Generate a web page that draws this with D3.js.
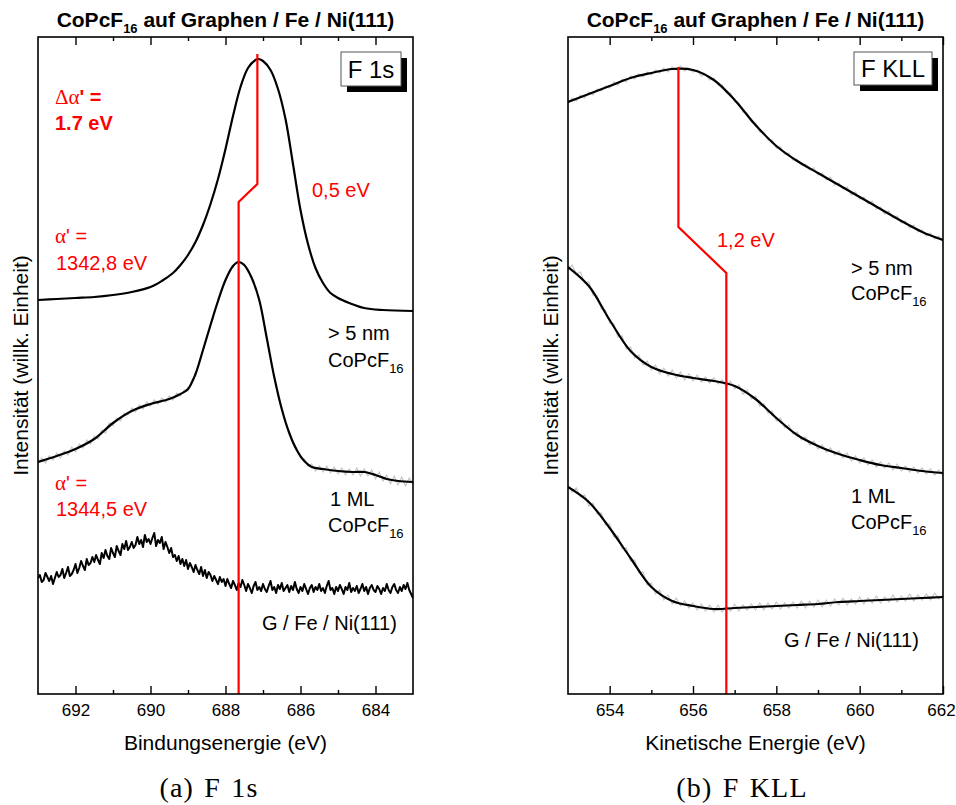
<!DOCTYPE html>
<html><head><meta charset="utf-8">
<script src="https://cdn.jsdelivr.net/npm/d3@7"></script>
<style>body{margin:0;background:#fff}svg{display:block}</style>
</head><body>
<svg id="c" width="956" height="805"></svg>
<script>
// ---------- DATA (energy in eV, intensity in arbitrary units) ----------
const f1sTicksMajor = [692, 690, 688, 686, 684];
const f1sTicksMinor = [691, 689, 687, 685];
const kllTicksMajor = [654, 656, 658, 660, 662];
const kllTicksMinor = [655, 657, 659, 661];

// F 1s, > 5 nm CoPcF16 (smoothed)
const f1sThick = [[693.0,394],[692.5,395],[692.0,396],[691.5,397],[691.0,399],[690.5,402],[690.0,407],[689.7,413],[689.4,421],[689.2,429],[689.0,439],[688.8,452],[688.6,469],[688.4,490],[688.2,515],[688.0,545],[687.8,578],[687.6,607],[687.4,626],[687.2,634],[687.13,635],[687.0,633],[686.8,624],[686.6,605],[686.4,575],[686.2,530],[686.0,484],[685.8,450],[685.6,426],[685.4,411],[685.2,401],[685.0,396],[684.7,391],[684.3,386],[683.8,384],[683.0,383]];
// F 1s, 1 ML CoPcF16 (smoothed)
const f1sML = [[693.0,232],[692.5,238],[692.0,245],[691.5,255],[691.0,271],[690.5,283],[690.0,290],[689.5,295],[689.2,300],[689.0,305],[688.8,320],[688.6,344],[688.4,369],[688.2,393],[688.0,414],[687.8,428],[687.65,432],[687.5,429],[687.3,416],[687.1,394],[686.9,356],[686.7,317],[686.5,285],[686.3,261],[686.1,244],[685.9,233],[685.7,227],[685.4,225],[685.0,223],[684.6,222],[684.3,222],[684.0,219],[683.7,215],[683.4,213],[683.0,212]];
// F 1s, 1 ML raw (start 693.0 eV, step -0.1 eV)
const f1sMLRawStart = 693.0, f1sMLRawStep = -0.1;
const f1sMLRaw = [230,236,231,238,234,241,236,243,239,247,242,250,246,254,250,258,255,264,261,271,268,276,273,281,279,286,282,289,285,292,288,294,290,296,292,298,294,301,298,304,303,314,318,333,343,357,368,382,392,405,413,423,427,432,431,430,422,417,405,395,375,357,335,318,299,286,271,262,251,246,236,235,228,230,223,228,222,228,221,227,220,226,219,225,219,226,218,225,218,224,215,222,213,219,210,218,209,217,208,216,210];
// F 1s, G / Fe / Ni(111) raw (start 693.0 eV, step -0.05 eV)
const f1sSubStart = 693.0, f1sSubStep = -0.05;
const f1sSub = [116,119,112,114,121,117,113,118,110,116, 122,117,119,125,116,121,127,118,120,124, 130,121,126,133,128,124,135,129,131,137, 132,139,134,130,141,136,144,138,135,146, 141,137,148,143,139,150,145,153,144,147, 152,146,149,157,150,154,147,159,152,155, 150,156,161,148,154,151,157,145,152,147, 141,146,137,139,133,138,130,135,128,134, 125,131,127,122,129,124,120,127,118,124, 116,122,119,113,118,114,110,117,112,115, 108,115,110,106,113,109,104,111,107,114, 109,103,110,106,101,108,112,104,107,103, 110,105,102,108,113,104,107,101,109,105, 111,103,106,109,102,108,104,112,105,101, 107,103,110,105,100,106,109,102,107,104, 110,103,106,101,108,113,104,106,100,107, 103,109,105,100,107,104,111,102,106,103, 108,101,105,110,103,107,100,106,109,104, 102,108,105,100,106,103,110,104,101,107, 110,104,101,107,103,109,105,111,104,100,96];

// F KLL smoothed
const kllThick = [[653.0,592],[653.5,600],[654.0,608],[654.5,616],[655.0,621],[655.5,625],[656.0,624],[656.5,614],[657.0,594],[657.5,569],[658.0,548],[658.5,533],[659.0,521],[659.5,509],[660.0,497],[660.5,485],[661.0,473],[661.5,462],[662.0,454]];
const kllML = [[653.0,427],[653.5,408],[654.0,374],[654.5,343],[655.0,327],[655.5,320],[656.0,316],[656.5,313],[657.0,308],[657.5,295],[658.0,276],[658.5,259],[659.0,248],[659.5,240],[660.0,234],[660.5,229],[661.0,226],[661.5,223],[662.0,221]];
const kllSub = [[653.0,207],[653.5,192],[654.0,166],[654.5,136],[655.0,107],[655.5,93],[656.0,88],[656.5,85],[657.0,86],[657.5,87],[658.0,88],[658.5,89],[659.0,90],[659.5,92],[660.0,93],[660.5,94],[661.0,95],[661.5,96],[662.0,97]];
// F KLL raw (start 653.0 eV, step +0.1 eV)
const kllRawStart = 653.0, kllRawStep = 0.1;
const kllThickRaw = [590,596,593,599,596,602,599,605,603,608,606,612,609,615,612,618,615,620,617,622,619,624,621,626,622,627,624,628,623,626,622,624,618,620,614,616,609,609,601,601,592,591,582,581,572,571,562,562,554,554,546,547,540,541,534,535,529,530,524,526,519,521,514,517,509,511,505,507,499,502,495,497,490,493,485,487,480,483,476,478,471,473,466,469,462,464,458,461,455,458,452];
const kllMLRaw = [425,429,420,422,411,412,399,398,385,384,371,370,357,358,345,347,336,339,329,333,324,329,320,326,318,324,316,322,314,320,313,319,312,317,311,316,310,314,307,313,305,309,300,304,295,298,288,290,281,283,273,276,266,269,260,262,254,257,249,253,245,249,242,246,239,243,236,241,233,238,231,236,229,234,227,232,226,231,224,230,223,228,222,227,221,226,220,225,219,224,218];
const kllSubRaw = [209,202,206,197,199,188,191,180,181,169,170,157,158,145,146,133,134,121,122,109,111,100,104,94,99,90,96,88,93,86,91,84,90,83,89,82,89,82,88,83,90,83,89,84,90,84,91,84,91,85,92,85,91,86,92,86,93,86,93,87,94,87,94,88,95,89,96,89,95,90,97,90,96,91,98,91,97,92,99,92,98,93,100,93,99,94,100,94,101,95,99];

// shift markers (eV, intensity)
const f1sShift = [[687.15,640],[687.15,510],[687.65,492],[687.65,0]];
const kllShift = [[655.65,627],[655.65,467],[656.8,421],[656.8,0]];

// ---------- DRAW ----------
const svg = d3.select('#c');
const SANS = "'Liberation Sans', Arial, sans-serif";
const SERIF = "'Liberation Serif', 'Times New Roman', serif";
const plotTop = 37, plotBottom = 694;

function panel(cfg){
  const g = svg.append('g');
  const x = d3.scaleLinear().domain(cfg.xDomain).range([cfg.left, cfg.right]);
  const y = d3.scaleLinear().domain([0, 657]).range([plotBottom, plotTop]);
  const line = d3.line().x(d => x(d[0])).y(d => y(d[1]));
  const smooth = d3.line().x(d => x(d[0])).y(d => y(d[1])).curve(d3.curveCatmullRom.alpha(0.5));

  const clip = 'clip' + cfg.id;
  svg.append('clipPath').attr('id', clip).append('rect')
     .attr('x', cfg.left).attr('y', plotTop).attr('width', cfg.right - cfg.left).attr('height', plotBottom - plotTop);
  const plot = g.append('g').attr('clip-path', `url(#${clip})`);

  cfg.raw.forEach(r => {
    const pts = r.values.map((v, i) => [r.start + i * r.step, v]);
    plot.append('path').attr('d', line(pts)).attr('fill', 'none')
      .attr('stroke', '#c4c4c4').attr('stroke-width', 1.1);
  });
  cfg.noisy.forEach(r => {
    const pts = r.values.map((v, i) => [r.start + i * r.step, v]);
    plot.append('path').attr('d', line(pts)).attr('fill', 'none')
      .attr('stroke', '#000').attr('stroke-width', 2).attr('stroke-linejoin', 'round');
  });
  cfg.smooth.forEach(s => {
    plot.append('path').attr('d', smooth(s)).attr('fill', 'none')
      .attr('stroke', '#000').attr('stroke-width', 2.2);
  });
  plot.append('path').attr('d', line(cfg.shift)).attr('fill', 'none')
    .attr('stroke', '#ff0000').attr('stroke-width', 2.2);

  const axB = g.append('g').attr('transform', `translate(0,${plotBottom})`)
    .call(d3.axisBottom(x).tickValues(cfg.major).tickSize(-8).tickPadding(10).tickFormat(d3.format('d')));
  g.append('g').attr('transform', `translate(0,${plotBottom})`)
    .call(d3.axisBottom(x).tickValues(cfg.minor).tickSize(-4).tickFormat(''));
  g.append('g').attr('transform', `translate(0,${plotTop})`)
    .call(d3.axisTop(x).tickValues(cfg.major).tickSize(-8).tickFormat(''));
  g.append('g').attr('transform', `translate(0,${plotTop})`)
    .call(d3.axisTop(x).tickValues(cfg.minor).tickSize(-4).tickFormat(''));
  g.selectAll('.domain').remove();
  g.selectAll('.tick line').attr('stroke', '#000').attr('stroke-width', 1.4);
  axB.selectAll('text').attr('font-family', SANS).attr('font-size', 17).attr('fill', '#000')
    .attr('dx', d => d === cfg.xDomain[1] ? -2 : 0);

  g.append('rect').attr('x', cfg.left).attr('y', plotTop).attr('width', cfg.right - cfg.left)
    .attr('height', plotBottom - plotTop).attr('fill', 'none').attr('stroke', '#000').attr('stroke-width', 1.6);

  const cx = (cfg.left + cfg.right) / 2;
  const t = g.append('text').attr('x', cx).attr('y', 27).attr('text-anchor', 'middle')
    .attr('font-family', SANS).attr('font-weight', 'bold').attr('font-size', 21);
  t.append('tspan').text('CoPcF');
  t.append('tspan').attr('font-size', 13).attr('dy', 6).text('16');
  t.append('tspan').attr('dy', -6).text(' auf Graphen / Fe / Ni(111)');
  g.append('text').attr('x', cx).attr('y', 750).attr('text-anchor', 'middle')
    .attr('font-family', SANS).attr('font-size', 21).text(cfg.xTitle);
  g.append('text').attr('transform', `translate(${cfg.left - 10},${(plotTop + plotBottom) / 2}) rotate(-90)`)
    .attr('text-anchor', 'middle').attr('font-family', SANS).attr('font-size', 21)
    .text('Intensität (willk. Einheit)');
  g.append('text').attr('x', cfg.capX).attr('y', 797).attr('text-anchor', 'middle')
    .attr('font-family', SERIF).attr('font-size', 28).attr('word-spacing', 2).attr('letter-spacing', 1.2)
    .text(cfg.caption);
  const bx = cfg.box;
  g.append('rect').attr('x', bx.x + 6).attr('y', bx.y + 6).attr('width', bx.w).attr('height', bx.h).attr('fill', '#000');
  g.append('rect').attr('x', bx.x).attr('y', bx.y).attr('width', bx.w).attr('height', bx.h)
    .attr('fill', '#fff').attr('stroke', '#555').attr('stroke-width', 1);
  g.append('text').attr('x', bx.x + bx.w / 2).attr('y', bx.y + bx.h / 2 + 8.5).attr('text-anchor', 'middle')
    .attr('font-family', SANS).attr('font-size', 24).text(bx.text);

  cfg.labels.forEach(l => {
    const tx = g.append('text').attr('x', l.x).attr('y', l.y).attr('font-family', SANS).attr('font-size', 20);
    if (l.sub) {
      tx.append('tspan').text(l.text);
      tx.append('tspan').attr('font-size', 13).attr('dy', 6).text(l.sub);
    } else tx.text(l.text);
  });
  return {x, y, g};
}

panel({
  id: 'a', xDomain: [693, 683], left: 38, right: 413,
  major: f1sTicksMajor, minor: f1sTicksMinor,
  smooth: [f1sThick, f1sML],
  raw: [{start: f1sMLRawStart, step: f1sMLRawStep, values: f1sMLRaw}],
  noisy: [{start: f1sSubStart, step: f1sSubStep, values: f1sSub}],
  shift: f1sShift,
  xTitle: 'Bindungsenergie (eV)', caption: '(a) F 1s', capX: 209,
  box: {x: 341, y: 52, w: 60, h: 34, text: 'F 1s'},
  labels: [
    {x: 328, y: 340, text: '> 5 nm'}, {x: 328, y: 367, text: 'CoPcF', sub: '16'},
    {x: 330, y: 506, text: '1 ML'}, {x: 328, y: 532, text: 'CoPcF', sub: '16'},
    {x: 262, y: 630, text: 'G / Fe / Ni(111)'}
  ]
});
panel({
  id: 'b', xDomain: [653, 662], left: 568, right: 943,
  major: kllTicksMajor, minor: kllTicksMinor,
  smooth: [kllThick, kllML, kllSub],
  raw: [{start: kllRawStart, step: kllRawStep, values: kllThickRaw},
        {start: kllRawStart, step: kllRawStep, values: kllMLRaw},
        {start: kllRawStart, step: kllRawStep, values: kllSubRaw}],
  noisy: [],
  shift: kllShift,
  xTitle: 'Kinetische Energie (eV)', caption: '(b) F KLL', capX: 742,
  box: {x: 854, y: 52, w: 78, h: 33, text: 'F KLL'},
  labels: [
    {x: 851, y: 275, text: '> 5 nm'}, {x: 851, y: 300, text: 'CoPcF', sub: '16'},
    {x: 851, y: 503, text: '1 ML'}, {x: 851, y: 529, text: 'CoPcF', sub: '16'},
    {x: 784, y: 647, text: 'G / Fe / Ni(111)'}
  ]
});

const red = '#ff0000';
function redText(x, y, parts){
  const t = svg.append('text').attr('x', x).attr('y', y).attr('font-family', SANS).attr('font-size', 20).attr('fill', red);
  parts.forEach(p => t.append('tspan').attr('font-family', p.serif ? SERIF : SANS)
    .attr('font-weight', p.bold ? 'bold' : 'normal').attr('font-size', p.size || 20).text(p.t));
}
redText(55, 104, [{t: 'Δα', serif: true, size: 21}, {t: "' =", bold: true}]);
redText(55, 130, [{t: '1.7 eV', bold: true}]);
redText(55, 243, [{t: 'α', serif: true, size: 21}, {t: "' ="}]);
redText(56, 270, [{t: '1342,8 eV'}]);
redText(312, 197, [{t: '0,5 eV'}]);
redText(55, 490, [{t: 'α', serif: true, size: 21}, {t: "' ="}]);
redText(56, 516, [{t: '1344,5 eV'}]);
redText(717, 247, [{t: '1,2 eV'}]);
</script>
</body></html>
